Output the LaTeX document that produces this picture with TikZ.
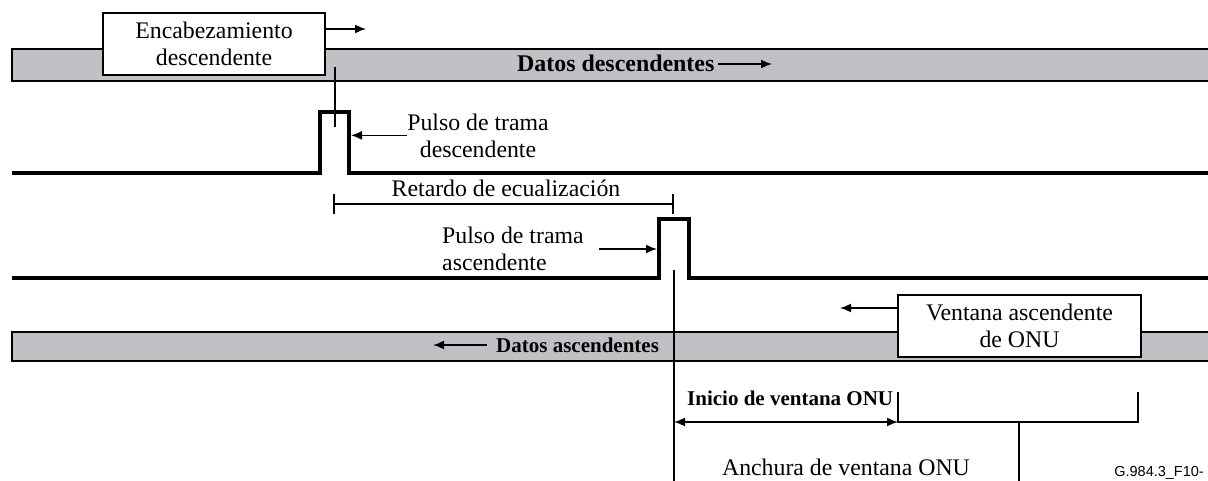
\documentclass[tikz,border=0pt]{standalone}
\usepackage{fontspec}
\setmainfont{Liberation Serif}
\newfontfamily\labelsans{Liberation Sans}
\usetikzlibrary{arrows.meta}
\definecolor{bargray}{RGB}{192,193,197}
\begin{document}
\begin{tikzpicture}[x=1pt,y=-1pt,
  barfill/.style={fill=bargray,draw=none},
  barline/.style={line width=2.8pt},
  pulse/.style={line width=3.6pt,line join=miter},
  vline/.style={line width=2.2pt},
  arr/.style={line width=1.6pt,-{Latex[length=11pt,width=9pt]}},
  darr/.style={line width=1.6pt,{Latex[length=11pt,width=9pt]}-{Latex[length=11pt,width=9pt]}},
  tick/.style={line width=2pt,{Bar[width=20pt]}-{Bar[width=20pt]}},
  box/.style={draw,line width=1.8pt,fill=white,inner sep=0pt,align=center,
    font=\fontsize{23.8}{27}\selectfont},
  txt/.style={inner sep=0pt,font=\fontsize{23.8}{27}\selectfont},
  btxt/.style={inner sep=0pt,font=\bfseries\fontsize{21}{25}\selectfont},
]
\useasboundingbox (0,0) rectangle (1208,481);

% top bar (downstream data)
\fill[bargray] (12,49) rectangle (1208,81);
\draw[barline] (1208,49) -- (12,49) -- (12,81) -- (1208,81);
% bottom bar (upstream data)
\fill[bargray] (12,332) rectangle (1208,361);
\draw[barline] (1208,332) -- (12,332) -- (12,361) -- (1208,361);

% header box
\node[box,minimum width=222pt,minimum height=62pt] (hdr) at (214,44)
  {Encabezamiento\\descendente};
\coordinate (hdrar) at (366,29);
\draw[arr] (hdr.east |- hdrar) -- (hdrar);

% Datos descendentes
\node[inner sep=0pt,font=\bfseries\fontsize{23.9}{28}\selectfont,anchor=base west]
  (dd) at (517,72) {Datos descendentes};
\coordinate (ddstart) at (718,64);
\coordinate (ddend) at (772,64);
\draw[arr] (ddstart) -- (ddend);

% downstream frame pulse
\coordinate (p1a) at (12,173);
\coordinate (p1b) at (320,173);
\coordinate (p1c) at (320,112);
\coordinate (p1d) at (349,112);
\coordinate (p1e) at (349,173);
\coordinate (p1f) at (1208,173);
\draw[pulse] (p1a) -- (p1b) -- (p1c) -- (p1d) -- (p1e) -- (p1f);
\coordinate (v1top) at (335,67);
\coordinate (v1bot) at (335,127);
\draw[vline] (v1top) -- (v1bot);

\node[txt,align=center] (p1txt) at (478,135.4) {Pulso de trama\\descendente};
\coordinate (p1arr) at (351,135.4);
\draw[arr] (p1txt.west) -- (p1arr);

% equalization delay
\node[txt,anchor=base] (eqtxt) at (506,197) {Retardo de ecualización};
\coordinate (eqL) at (333,204);
\coordinate (eqR) at (674,204);
\draw[tick] (eqL) -- (eqR);

% upstream frame pulse
\coordinate (p2a) at (12,278);
\coordinate (p2b) at (659,278);
\coordinate (p2c) at (659,219);
\coordinate (p2d) at (689,219);
\coordinate (p2e) at (689,278);
\coordinate (p2f) at (1208,278);
\draw[pulse] (p2a) -- (p2b) -- (p2c) -- (p2d) -- (p2e) -- (p2f);

\node[txt,align=left,anchor=west] (p2txt) at (442,248.4) {Pulso de trama\\ascendente};
\coordinate (p2s) at (599,249);
\coordinate (p2arr) at (657,249);
\draw[arr] (p2s) -- (p2arr);

\coordinate (v2top) at (674,270);
\coordinate (v2bot) at (674,481);
\draw[vline] (v2top) -- (v2bot);

% Datos ascendentes
\node[btxt,anchor=base west] (da) at (496,352) {Datos ascendentes};
\coordinate (dastart) at (487,345);
\coordinate (daend) at (433,345);
\draw[arr] (dastart) -- (daend);

% ONU window box
\node[box,minimum width=243pt,minimum height=62pt] (vent) at (1019.5,326)
  {Ventana ascendente\\de ONU};
\coordinate (vtar) at (840,308);
\draw[arr] (vent.west |- vtar) -- (vtar);

% window start
\node[btxt,anchor=base west] (ini) at (687,405) {Inicio de ventana ONU};
\coordinate (iniL) at (674,422);
\coordinate (iniR) at (898,422);
\draw[darr] (iniL) -- (iniR);

% window width bracket
\coordinate (brL) at (898,392);
\coordinate (brR) at (1138,392);
\coordinate (brRb) at (1138,422);
\coordinate (brM) at (1019,422);
\coordinate (brMb) at (1019,481);
\draw[vline] (brL) -- (iniR) -- (brRb) -- (brR);
\draw[vline] (brM) -- (brMb);
\node[txt,anchor=base] (anch) at (846,475) {Anchura de ventana ONU};

% figure id
\node[inner sep=0pt,anchor=base east,font=\labelsans\fontsize{14.5}{17}\selectfont]
  (fid) at (1204,476.5) {G.984.3\_F10-};
\end{tikzpicture}
\end{document}
